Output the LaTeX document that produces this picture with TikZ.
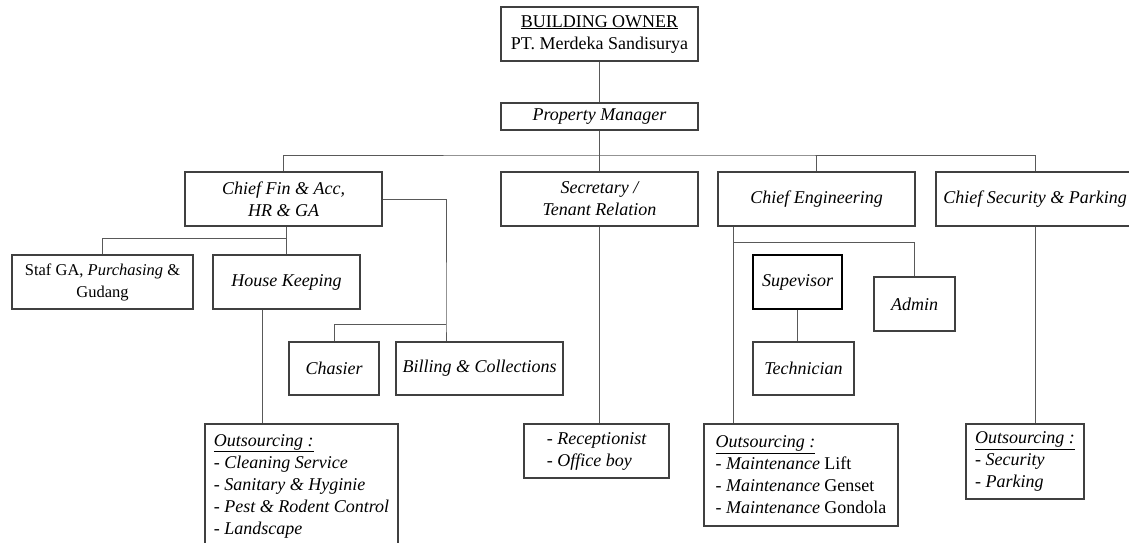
\documentclass[tikz,border=0pt]{standalone}
\usepackage{fontspec}
\setmainfont{Liberation Serif}
\begin{document}
\begin{tikzpicture}[x=1pt,y=-1pt,
  box/.style={draw=black!75, line width=1.1pt, inner sep=0pt, align=center,
    font=\fontsize{18}{22}\selectfont},
  lbox/.style={box, align=left},
  conn/.style={draw=black!65, line width=1pt}]
\useasboundingbox (0,0) rectangle (1129,542);
% top
\node[box, minimum width=197pt, minimum height=54pt] (bo) at (599.5,34)
  {\underline{BUILDING OWNER}\\PT. Merdeka Sandisurya};
\node[box, minimum width=197pt, minimum height=27pt] (pm) at (599.5,116.5)
  {\itshape Property Manager};
% level 2
\node[box, minimum width=197pt, minimum height=54pt] (cf) at (283.5,199)
  {\itshape Chief Fin \& Acc,\\\itshape HR \& GA};
\node[box, minimum width=197pt, minimum height=54pt] (sec) at (599.5,199)
  {\itshape Secretary /\\\itshape Tenant Relation};
\node[box, minimum width=197pt, minimum height=54pt] (ce) at (816.5,199)
  {\itshape Chief Engineering};
\node[box, minimum width=198pt, minimum height=54pt] (cs) at (1035,199)
  {\itshape Chief Security \& Parking};
% level 3
\node[box, font=\fontsize{16.5}{22}\selectfont, minimum width=181pt, minimum height=54pt] (staf) at (102.5,282)
  {Staf GA, \textit{Purchasing} \&\\Gudang};
\node[box, minimum width=147pt, minimum height=54pt] (hk) at (286.5,282)
  {\itshape House Keeping};
\node[box, draw=black, line width=1.3pt, minimum width=89pt, minimum height=54pt] (sup) at (797.5,282)
  {\itshape Supevisor};
\node[box, minimum width=81pt, minimum height=54pt] (admin) at (914.5,304)
  {\itshape Admin};
\node[box, minimum width=90pt, minimum height=53pt] (chas) at (334,368.5)
  {\itshape Chasier};
\node[box, minimum width=167pt, minimum height=53pt] (bill) at (479.5,368.5)
  {\itshape Billing \& Collections};
\node[box, minimum width=101pt, minimum height=53pt] (tech) at (803.5,368.5)
  {\itshape Technician};
% bottom
\node[lbox, minimum width=193pt, minimum height=124pt] (hkout) at (301.5,486)
  {\itshape\underline{Outsourcing :}\\\itshape - Cleaning Service\\\itshape - Sanitary \& Hyginie\\\itshape - Pest \& Rodent Control\\\itshape - Landscape};
\node[lbox, minimum width=145pt, minimum height=54pt] (rec) at (596.5,451)
  {\itshape - Receptionist\\\itshape - Office boy};
\node[lbox, minimum width=194pt, minimum height=102pt] (ceout) at (801,475)
  {\itshape\underline{Outsourcing :}\\- \textit{Maintenance} Lift\\- \textit{Maintenance} Genset\\- \textit{Maintenance} Gondola};
\node[lbox, minimum width=118pt, minimum height=75pt] (csout) at (1025,461.5)
  {\itshape\underline{Outsourcing :}\\\itshape - Security\\\itshape - Parking};
% connectors
\coordinate (bus) at (600,155);
\coordinate (j1) at (286.5,238);
\coordinate (bj) at (446,324);
\coordinate (hkd) at (262,0);
\coordinate (ced) at (733,0);
\coordinate (cej) at (733,242);
\draw[conn] (bo) -- (pm);
\draw[conn] (pm) -- (sec);
\draw[conn] (cf.north) |- (bus) -| (cs.north);
\draw[conn] (ce.north) -- (ce.north |- bus);
\draw[conn] (hk.north) -- (hk.north |- cf.south);
\draw[conn] (staf.north) |- (j1);
\draw[conn] (cf.east) -| (bj) -- (bj |- bill.north);
\draw[conn] (chas.north) |- (bj);
\draw[conn] (hk.south -| hkd) -- (hkout.north -| hkd);
\draw[conn] (sec.south) -- (sec.south |- rec.north);
\draw[conn] (ce.south -| ced) -- (ceout.north -| ced);
\draw[conn] (cej) -| (admin.north);
\draw[conn] (sup.south) -- (sup.south |- tech.north);
\draw[conn] (cs.south) -- (cs.south |- csout.north);
\end{tikzpicture}
\end{document}
